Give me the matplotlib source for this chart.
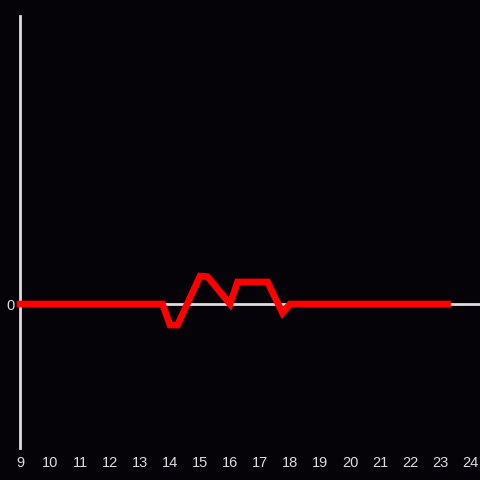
import matplotlib
matplotlib.use("Agg")
import matplotlib.pyplot as plt

hours = [9.0, 13.75, 14.0, 14.25, 15.0, 15.25, 16.0, 16.25, 17.25, 17.75, 18.0, 23.25]
values = [0.0, 0.0, -0.146, -0.146, 0.194, 0.19, 0.0, 0.153, 0.153, -0.0625, 0.0, 0.0]
xticks = list(range(9, 25))
yticks = [0]

bg = "#050307"
fig = plt.figure(figsize=(4.8, 4.8), dpi=100, facecolor=bg)
ax = fig.add_axes([20/480, 32/480, 460/480, 432/480], facecolor=bg)
ax.set_xlim(9, 9 + 460/30)
ax.set_ylim(-1, 2)
for s in ["top", "right", "bottom"]:
    ax.spines[s].set_visible(False)
ax.spines["left"].set_color("#dddddd")
ax.spines["left"].set_linewidth(2)
ax.axhline(0, color="#dddddd", lw=2, zorder=1)
ax.plot(hours, values, color="#ff0000", lw=4.8, solid_capstyle="projecting",
        solid_joinstyle="miter", zorder=3, clip_on=False)
ax.set_xticks(xticks)
ax.set_xticklabels([str(t) for t in xticks])
ax.set_yticks(yticks)
ax.set_yticklabels(["0"])
ax.tick_params(length=0, colors="#dddddd", labelsize=10.5, pad=6)
for lab in ax.get_xticklabels() + ax.get_yticklabels():
    lab.set_family("Liberation Sans")
ax.tick_params(axis="y", pad=4)
fig.savefig("out.png", dpi=100, facecolor=bg)
